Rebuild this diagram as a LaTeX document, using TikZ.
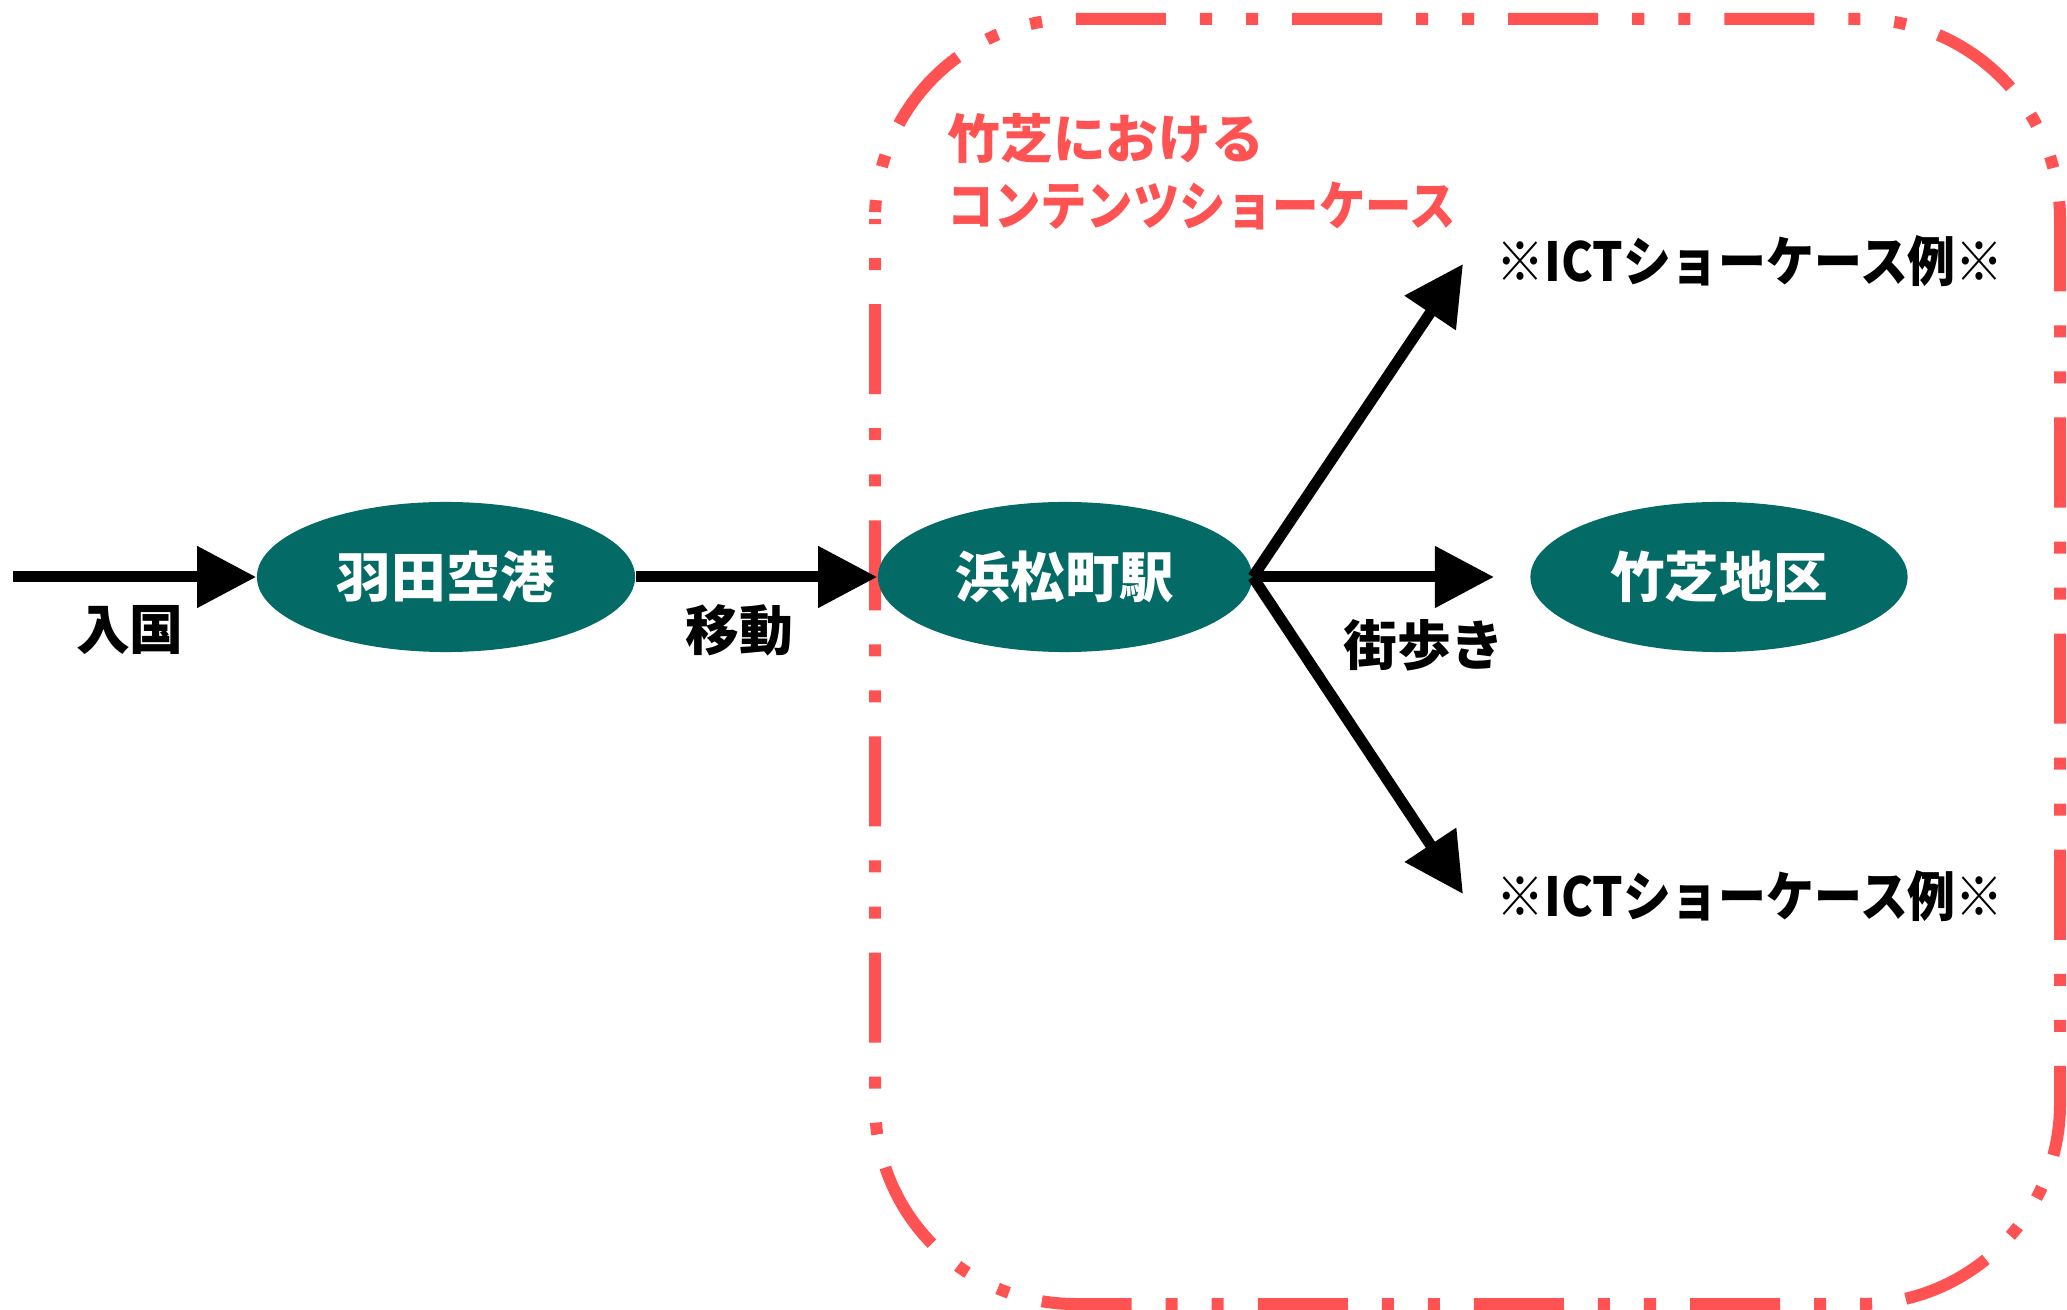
\documentclass[tikz,border=0pt]{standalone}
\usepackage{fontspec}
\usepackage{graphicx}
\usetikzlibrary{arrows.meta,shapes.geometric}
\newfontfamily\jp{Noto Sans CJK JP}
\definecolor{teal1}{RGB}{3,106,102}
\definecolor{red1}{RGB}{255,83,83}
\tikzset{
  stn/.style={ellipse, fill=teal1, draw=none, inner sep=0pt, text=white,
    font=\jp\bfseries\fontsize{15.5pt}{18pt}\selectfont},
  lbl/.style={inner sep=0pt, text=black, font=\jp\bfseries\fontsize{15.3pt}{18pt}\selectfont},
  ttl/.style={inner sep=0pt, anchor=west, text=red1, font=\jp\bfseries\fontsize{15pt}{18pt}\selectfont},
  arr/.style={line width=0.11cm, -{Triangle[length=0.59cm,width=0.59cm]}},
  frame/.style={draw=red1, line width=0.12cm, rounded corners=2cm,
    dash pattern=on 0.90cm off 0.34cm on 0.12cm off 0.34cm on 0.12cm off 0.34cm,
    dash phase=1.31cm}
}
\begin{document}
\begin{tikzpicture}[x=0.01cm,y=-0.01cm]
\useasboundingbox (0,0) rectangle (2067,1310);
\fill[white] (0,0) rectangle (2067,1310);
% frame
\draw[frame] (875,19) rectangle (2060,1304);
% title
\node[ttl] (t1l) at (947,138) {竹芝における};
\node[ttl] (t2l) at (947,206) {\scalebox{0.88}[1]{コンテンツショーケース}};
% stations
\node[stn, minimum width=3.78cm, minimum height=1.50cm] (A) at (446,577) {羽田空港};
\node[stn, minimum width=3.74cm, minimum height=1.50cm] (B) at (1065,577) {浜松町駅};
\node[stn, minimum width=3.77cm, minimum height=1.50cm] (C) at (1719,577) {竹芝地区};
% ICT labels
\node[lbl] (I1) at (1750,261) {\scalebox{0.89}[1]{※ICTショーケース例※}};
\node[lbl] (I2) at (1750,896) {\scalebox{0.89}[1]{※ICTショーケース例※}};
% coordinates
\coordinate (S) at (13,577);
\coordinate (T1) at (1463,264);
\coordinate (T2) at (1494,577);
\coordinate (T3) at (1463,894);
% arrows
\draw[arr] (S) -- (A.west);
\draw[arr] (A.east) -- (B.west);
\draw[arr] (B.east) -- (T1);
\draw[arr] (B.east) -- (T2);
\draw[arr] (B.east) -- (T3);
% labels
\node[lbl] (L1) at (130,630) {入国};
\node[lbl] (L2) at (739,630) {移動};
\node[lbl] (L3) at (1424,645) {街歩き};
\end{tikzpicture}
\end{document}
